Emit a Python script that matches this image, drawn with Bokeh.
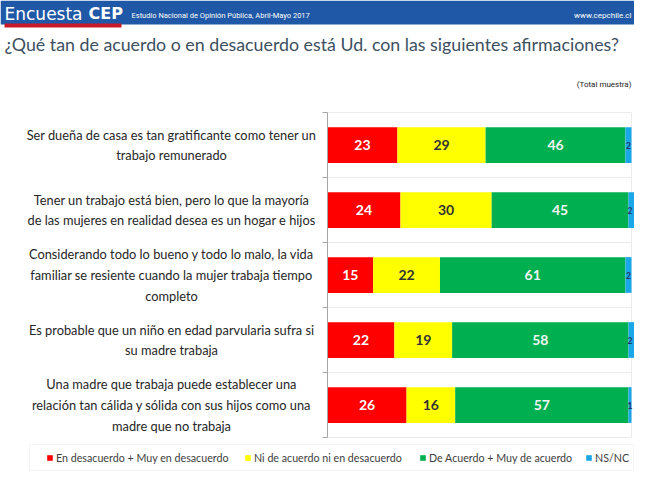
from bokeh.plotting import figure
from bokeh.models import (ColumnDataSource, Range1d, Label, LabelSet, BoxAnnotation,
                          Legend, LegendItem)
from bokeh.core.properties import value
from bokeh.embed import file_html
from bokeh.resources import INLINE

# Data (Encuesta CEP, abril-mayo 2017)
statements = [
    "Ser dueña de casa es tan gratificante como tener un\ntrabajo remunerado",
    "Tener un trabajo está bien, pero lo que la mayoría\nde las mujeres en realidad desea es un hogar e hijos",
    "Considerando todo lo bueno y todo lo malo, la vida\nfamiliar se resiente cuando la mujer trabaja tiempo\ncompleto",
    "Es probable que un niño en edad parvularia sufra si\nsu madre trabaja",
    "Una madre que trabaja puede establecer una\nrelación tan cálida y sólida con sus hijos como una\nmadre que no trabaja",
]
desacuerdo = [23, 24, 15, 22, 26]
ni_ni = [29, 30, 22, 19, 16]
acuerdo = [46, 45, 61, 58, 57]
ns_nc = [2, 2, 2, 2, 1]

series_names = ["En desacuerdo + Muy en desacuerdo", "Ni de acuerdo ni en desacuerdo",
                "De Acuerdo + Muy de acuerdo", "NS/NC"]
keys = ["desacuerdo", "ni_ni", "acuerdo", "ns_nc"]
colors = ["#ff0000", "#ffff00", "#00b050", "#1aa7e8"]
text_colors = ["#ffffff", "#333333", "#f4f4f4", "#1f3864"]

title = "¿Qué tan de acuerdo o en desacuerdo está Ud. con las siguientes afirmaciones?"
subtitle = "Estudio Nacional de Opinión Pública, Abril-Mayo 2017"

W, H = 634, 471
PL, PR, PT, PB = 327, 631, 112, 437   # bar area on the canvas, in px
n = len(statements)


def xd(px):
    return (px - PL) * 100 / (PR - PL)


def yd(py):
    return n - (py - PT) * n / (PB - PT)


# one band per statement, first statement at the top
pos = [n - i - 0.5 for i in range(n)]
bounds = list(range(n + 1))

# the frame fills the whole canvas; the bar area is 0..100 x 0..n inside it
p = figure(width=W, height=H, x_range=Range1d(xd(0), xd(W)), y_range=Range1d(yd(H), yd(0)),
           toolbar_location=None, tools="", output_backend="svg",
           min_border=0)
p.background_fill_color = "white"
p.border_fill_color = "white"
p.outline_line_color = None
p.axis.visible = False
p.grid.grid_line_color = None

# faint band grid and right edge, then the left axis with its ticks
p.segment(x0=0, x1=100, y0=bounds, y1=bounds, line_color="#ececec", line_width=1)
p.segment(x0=100, x1=100, y0=0, y1=n, line_color="#ececec", line_width=1)

src = ColumnDataSource(dict(pos=pos, desacuerdo=desacuerdo, ni_ni=ni_ni,
                            acuerdo=acuerdo, ns_nc=ns_nc))
bars = p.hbar_stack(keys, y="pos", height=0.55, color=colors, line_color=None, source=src)

p.segment(x0=0, x1=0, y0=0, y1=n, line_color="#a6a6a6", line_width=1)
p.segment(x0=xd(PL - 5), x1=0, y0=bounds, y1=bounds, line_color="#a6a6a6", line_width=1)

# value labels in the middle of the visible part of each segment
lx, ly, lt, lc, sx_, sy_, st = [], [], [], [], [], [], []
for i in range(n):
    left = 0
    for k, vals in enumerate([desacuerdo, ni_ni, acuerdo, ns_nc]):
        v = vals[i]
        mid = (left + min(left + v, 100)) / 2
        if k < 3:
            lx.append(mid); ly.append(pos[i]); lt.append(str(v)); lc.append(text_colors[k])
        else:
            sx_.append(mid); sy_.append(pos[i]); st.append(str(v))
        left += v
p.add_layout(LabelSet(x="x", y="y", text="t", text_color="c",
                      source=ColumnDataSource(dict(x=lx, y=ly, t=lt, c=lc)),
                      text_font=value("Lato"), text_font_style="bold", text_font_size="14px",
                      text_align="center", text_baseline="middle"))
p.add_layout(LabelSet(x="x", y="y", text="t",
                      source=ColumnDataSource(dict(x=sx_, y=sy_, t=st)),
                      text_color=text_colors[3], text_font=value("Lato"), text_font_style="bold",
                      text_font_size="8.5px", text_align="center", text_baseline="middle"))

# statements as centred multi-line labels left of the axis
for i, s in enumerate(statements):
    p.add_layout(Label(x=xd(171), y=pos[i], text=s,
                       text_font="Lato", text_font_size="12.8px", text_color="#262626",
                       text_align="center", text_baseline="middle", text_line_height=1.3))

# header band with the red underline
p.add_layout(BoxAnnotation(left=xd(0), right=xd(W), top=yd(0), bottom=yd(24),
                           fill_color="#1f58a6", fill_alpha=1, line_color=None))
p.add_layout(BoxAnnotation(left=xd(4), right=xd(121), top=yd(23), bottom=yd(27),
                           fill_color="#c8192b", fill_alpha=1, line_color=None))


def txt(text, px, py, size, color="#ffffff", style="normal", font="Lato", align="left"):
    p.add_layout(Label(x=xd(px), y=yd(py), text=text, text_font=font,
                       text_font_size=f"{size}px", text_color=color, text_font_style=style,
                       text_align=align, text_baseline="middle"))


txt("Encuesta", 4, 13, 17, font="DejaVu Sans")
txt("CEP", 88, 13, 16, style="bold", font="DejaVu Sans")
txt(subtitle, 131, 15, 7.5, font="Roboto")
txt("www.cepchile.cl", 631, 15, 8, font="Roboto", align="right")
txt(title, 4, 43, 17.8, color="#3c4f5f")
txt("(Total muestra)", 631, 84, 8, color="#222222", font="Roboto", align="right")

# legend: a framed strip with one entry per series
p.add_layout(BoxAnnotation(left=xd(29), right=xd(633), top=yd(444), bottom=yd(470),
                           fill_color=None, line_color="#d9d9d9", line_width=1))
for nm, r, gx in zip(series_names, bars, [46, 244, 419, 585]):
    p.add_layout(Legend(items=[LegendItem(label=nm, renderers=[r])],
                        location=(gx, H - 464), orientation="horizontal",
                        glyph_width=7, glyph_height=7, label_standoff=3, padding=0,
                        label_height=14, margin=0, border_line_color=None,
                        background_fill_alpha=0,
                        label_text_font="Lato", label_text_font_size="10.7px",
                        label_text_color="#404040"))

open("out.html", "w").write(file_html(p, INLINE))
